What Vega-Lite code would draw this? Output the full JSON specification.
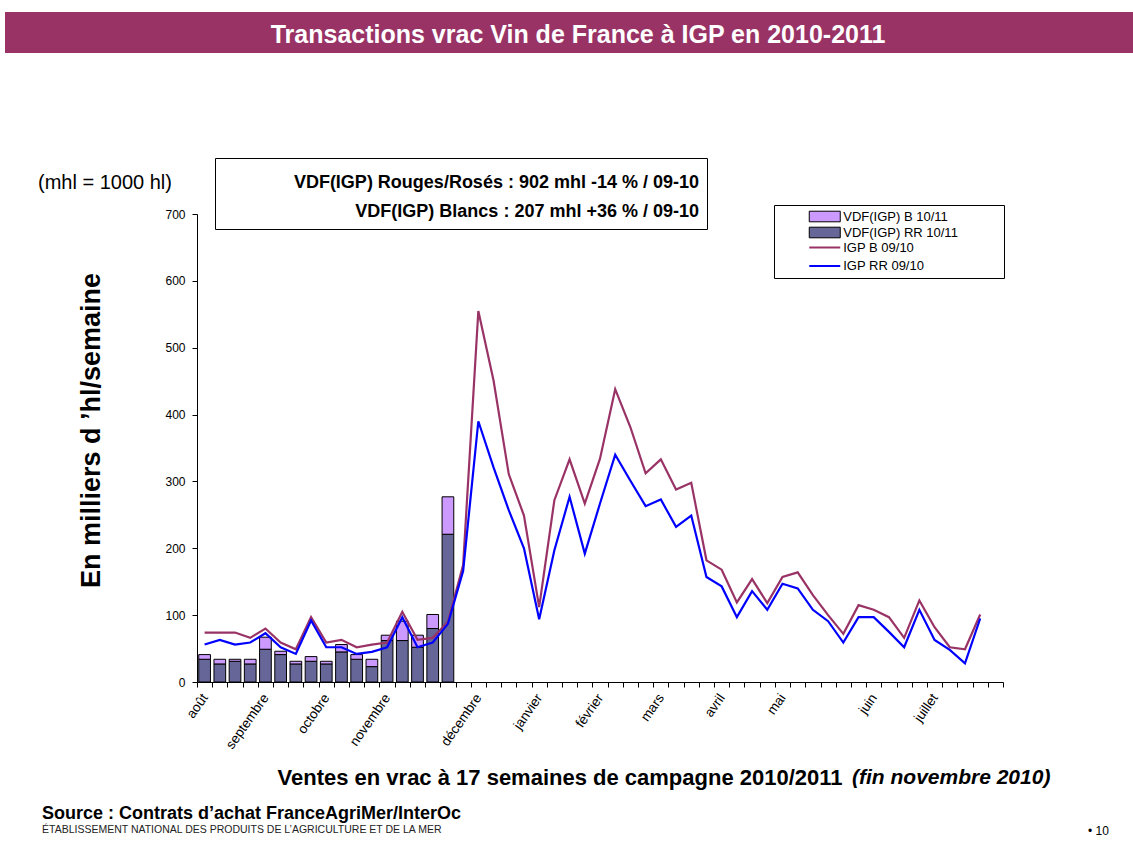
{
"$schema": "https://vega.github.io/schema/vega-lite/v6.json",
"autosize": {"type": "none"},
"padding": {"left": 197, "top": 214, "right": 130, "bottom": 175},
"width": 806, "height": 468,
"background": "white",
"config": {"font": "Liberation Sans", "view": {"stroke": null}},
"resolve": {"scale": {"strokeDash": "independent"}},
"data": {"values": [
 {"w":1,"serie":"VDF(IGP) RR 10/11","v":34},{"w":2,"serie":"VDF(IGP) RR 10/11","v":27},{"w":3,"serie":"VDF(IGP) RR 10/11","v":31},{"w":4,"serie":"VDF(IGP) RR 10/11","v":27},{"w":5,"serie":"VDF(IGP) RR 10/11","v":49},{"w":6,"serie":"VDF(IGP) RR 10/11","v":41},{"w":7,"serie":"VDF(IGP) RR 10/11","v":27},{"w":8,"serie":"VDF(IGP) RR 10/11","v":31},{"w":9,"serie":"VDF(IGP) RR 10/11","v":27},{"w":10,"serie":"VDF(IGP) RR 10/11","v":45},{"w":11,"serie":"VDF(IGP) RR 10/11","v":34},{"w":12,"serie":"VDF(IGP) RR 10/11","v":23},{"w":13,"serie":"VDF(IGP) RR 10/11","v":62},{"w":14,"serie":"VDF(IGP) RR 10/11","v":62},{"w":15,"serie":"VDF(IGP) RR 10/11","v":52},{"w":16,"serie":"VDF(IGP) RR 10/11","v":80},{"w":17,"serie":"VDF(IGP) RR 10/11","v":221},
 {"w":1,"serie":"VDF(IGP) B 10/11","v":7},{"w":2,"serie":"VDF(IGP) B 10/11","v":7},{"w":3,"serie":"VDF(IGP) B 10/11","v":3},{"w":4,"serie":"VDF(IGP) B 10/11","v":7},{"w":5,"serie":"VDF(IGP) B 10/11","v":18},{"w":6,"serie":"VDF(IGP) B 10/11","v":5},{"w":7,"serie":"VDF(IGP) B 10/11","v":4},{"w":8,"serie":"VDF(IGP) B 10/11","v":7},{"w":9,"serie":"VDF(IGP) B 10/11","v":4},{"w":10,"serie":"VDF(IGP) B 10/11","v":11},{"w":11,"serie":"VDF(IGP) B 10/11","v":7},{"w":12,"serie":"VDF(IGP) B 10/11","v":11},{"w":13,"serie":"VDF(IGP) B 10/11","v":8},{"w":14,"serie":"VDF(IGP) B 10/11","v":29},{"w":15,"serie":"VDF(IGP) B 10/11","v":18},{"w":16,"serie":"VDF(IGP) B 10/11","v":21},{"w":17,"serie":"VDF(IGP) B 10/11","v":56},
 {"w":1,"serie":"IGP B 09/10","v":74},{"w":2,"serie":"IGP B 09/10","v":74},{"w":3,"serie":"IGP B 09/10","v":74},{"w":4,"serie":"IGP B 09/10","v":66},{"w":5,"serie":"IGP B 09/10","v":80},{"w":6,"serie":"IGP B 09/10","v":59},{"w":7,"serie":"IGP B 09/10","v":49},{"w":8,"serie":"IGP B 09/10","v":97},{"w":9,"serie":"IGP B 09/10","v":59},{"w":10,"serie":"IGP B 09/10","v":63},{"w":11,"serie":"IGP B 09/10","v":52},{"w":12,"serie":"IGP B 09/10","v":56},{"w":13,"serie":"IGP B 09/10","v":59},{"w":14,"serie":"IGP B 09/10","v":105},{"w":15,"serie":"IGP B 09/10","v":63},{"w":16,"serie":"IGP B 09/10","v":66},{"w":17,"serie":"IGP B 09/10","v":90},{"w":18,"serie":"IGP B 09/10","v":175},{"w":19,"serie":"IGP B 09/10","v":555},{"w":20,"serie":"IGP B 09/10","v":451},{"w":21,"serie":"IGP B 09/10","v":311},{"w":22,"serie":"IGP B 09/10","v":249},{"w":23,"serie":"IGP B 09/10","v":112},{"w":24,"serie":"IGP B 09/10","v":272},{"w":25,"serie":"IGP B 09/10","v":333},{"w":26,"serie":"IGP B 09/10","v":267},{"w":27,"serie":"IGP B 09/10","v":334},{"w":28,"serie":"IGP B 09/10","v":438},{"w":29,"serie":"IGP B 09/10","v":381},{"w":30,"serie":"IGP B 09/10","v":312},{"w":31,"serie":"IGP B 09/10","v":333},{"w":32,"serie":"IGP B 09/10","v":288},{"w":33,"serie":"IGP B 09/10","v":298},{"w":34,"serie":"IGP B 09/10","v":182},{"w":35,"serie":"IGP B 09/10","v":168},{"w":36,"serie":"IGP B 09/10","v":119},{"w":37,"serie":"IGP B 09/10","v":154},{"w":38,"serie":"IGP B 09/10","v":118},{"w":39,"serie":"IGP B 09/10","v":157},{"w":40,"serie":"IGP B 09/10","v":164},{"w":41,"serie":"IGP B 09/10","v":130},{"w":42,"serie":"IGP B 09/10","v":100},{"w":43,"serie":"IGP B 09/10","v":72},{"w":44,"serie":"IGP B 09/10","v":115},{"w":45,"serie":"IGP B 09/10","v":108},{"w":46,"serie":"IGP B 09/10","v":97},{"w":47,"serie":"IGP B 09/10","v":66},{"w":48,"serie":"IGP B 09/10","v":122},{"w":49,"serie":"IGP B 09/10","v":82},{"w":50,"serie":"IGP B 09/10","v":52},{"w":51,"serie":"IGP B 09/10","v":49},{"w":52,"serie":"IGP B 09/10","v":101},
 {"w":1,"serie":"IGP RR 09/10","v":56},{"w":2,"serie":"IGP RR 09/10","v":63},{"w":3,"serie":"IGP RR 09/10","v":56},{"w":4,"serie":"IGP RR 09/10","v":59},{"w":5,"serie":"IGP RR 09/10","v":73},{"w":6,"serie":"IGP RR 09/10","v":52},{"w":7,"serie":"IGP RR 09/10","v":42},{"w":8,"serie":"IGP RR 09/10","v":92},{"w":9,"serie":"IGP RR 09/10","v":52},{"w":10,"serie":"IGP RR 09/10","v":52},{"w":11,"serie":"IGP RR 09/10","v":42},{"w":12,"serie":"IGP RR 09/10","v":45},{"w":13,"serie":"IGP RR 09/10","v":52},{"w":14,"serie":"IGP RR 09/10","v":97},{"w":15,"serie":"IGP RR 09/10","v":52},{"w":16,"serie":"IGP RR 09/10","v":59},{"w":17,"serie":"IGP RR 09/10","v":87},{"w":18,"serie":"IGP RR 09/10","v":166},{"w":19,"serie":"IGP RR 09/10","v":390},{"w":20,"serie":"IGP RR 09/10","v":321},{"w":21,"serie":"IGP RR 09/10","v":257},{"w":22,"serie":"IGP RR 09/10","v":200},{"w":23,"serie":"IGP RR 09/10","v":94},{"w":24,"serie":"IGP RR 09/10","v":197},{"w":25,"serie":"IGP RR 09/10","v":277},{"w":26,"serie":"IGP RR 09/10","v":192},{"w":27,"serie":"IGP RR 09/10","v":267},{"w":28,"serie":"IGP RR 09/10","v":340},{"w":29,"serie":"IGP RR 09/10","v":301},{"w":30,"serie":"IGP RR 09/10","v":263},{"w":31,"serie":"IGP RR 09/10","v":273},{"w":32,"serie":"IGP RR 09/10","v":232},{"w":33,"serie":"IGP RR 09/10","v":249},{"w":34,"serie":"IGP RR 09/10","v":157},{"w":35,"serie":"IGP RR 09/10","v":143},{"w":36,"serie":"IGP RR 09/10","v":97},{"w":37,"serie":"IGP RR 09/10","v":136},{"w":38,"serie":"IGP RR 09/10","v":108},{"w":39,"serie":"IGP RR 09/10","v":147},{"w":40,"serie":"IGP RR 09/10","v":140},{"w":41,"serie":"IGP RR 09/10","v":108},{"w":42,"serie":"IGP RR 09/10","v":91},{"w":43,"serie":"IGP RR 09/10","v":59},{"w":44,"serie":"IGP RR 09/10","v":97},{"w":45,"serie":"IGP RR 09/10","v":97},{"w":46,"serie":"IGP RR 09/10","v":75},{"w":47,"serie":"IGP RR 09/10","v":52},{"w":48,"serie":"IGP RR 09/10","v":108},{"w":49,"serie":"IGP RR 09/10","v":63},{"w":50,"serie":"IGP RR 09/10","v":48},{"w":51,"serie":"IGP RR 09/10","v":28},{"w":52,"serie":"IGP RR 09/10","v":95}
]},
"layer": [
 {
  "transform": [{"filter": "indexof(datum.serie, 'VDF') == 0"}],
  "mark": {"type": "bar", "stroke": "black", "strokeWidth": 1, "width": {"band": 0.77}},
  "encoding": {
   "x": {"field": "w", "type": "ordinal",
    "scale": {"domain": [1,2,3,4,5,6,7,8,9,10,11,12,13,14,15,16,17,18,19,20,21,22,23,24,25,26,27,28,29,30,31,32,33,34,35,36,37,38,39,40,41,42,43,44,45,46,47,48,49,50,51,52,53], "paddingInner": 0, "paddingOuter": 0},
    "title": "Ventes en vrac à 17 semaines de campagne 2010/2011",
    "axis": {"titleFontSize": 22, "titleFontWeight": "bold", "titleColor": "black", "titleX": 80, "titleY": 95, "titleAlign": "left", "titleBaseline": "middle",
     "labelExpr": "datum.value == 1 ? 'août' : datum.value == 5 ? 'septembre' : datum.value == 9 ? 'octobre' : datum.value == 13 ? 'novembre' : datum.value == 19 ? 'décembre' : datum.value == 23 ? 'janvier' : datum.value == 27 ? 'février' : datum.value == 31 ? 'mars' : datum.value == 35 ? 'avril' : datum.value == 39 ? 'mai' : datum.value == 45 ? 'juin' : datum.value == 49 ? 'juillet' : ''",
     "labelAngle": -55, "labelAlign": "right", "labelBaseline": "middle", "labelFontSize": 13.5, "labelColor": "black", "labelPadding": 8, "labelOverlap": false,
     "tickBand": "extent", "tickSize": 5, "tickColor": "black", "domainColor": "black", "grid": false}},
   "y": {"field": "v", "type": "quantitative", "stack": "zero",
    "scale": {"domain": [0, 700], "nice": false},
    "title": "En milliers d ’hl/semaine",
    "axis": {"values": [0,100,200,300,400,500,600,700], "titleFontSize": 27, "titleFontWeight": "bold", "titleColor": "black", "titleX": -106, "titleY": 216, "titleAngle": -90, "titleAlign": "center", "titleBaseline": "middle",
     "labelFontSize": 12, "labelColor": "black", "labelPadding": 7, "tickSize": 5, "tickColor": "black", "domainColor": "black", "grid": false}},
   "color": {"field": "serie", "type": "nominal",
    "scale": {"domain": ["VDF(IGP) B 10/11", "VDF(IGP) RR 10/11"], "range": ["#CC99FF", "#666699"]},
    "legend": {"title": "iiiiiiiiiiiiiiiiiiiiiiiiiiiiiiiiiiiiiiiiiiiiiiiiiiiiiiiiiiii", "titleOrient": "bottom", "titlePadding": 8, "titleFontSize": 25, "titleOpacity": 0, "titleLimit": 225,
     "orient": "none", "legendX": 577, "legendY": -9, "padding": 5, "strokeColor": "black",
     "symbolType": "M-3.1,-1.06H3.1V1.06H-3.1Z", "symbolSize": 100, "symbolOffset": 39.25, "symbolStrokeColor": "black", "symbolStrokeWidth": 1, "symbolOpacity": 1,
     "labelOffset": 12, "rowPadding": 1, "labelFontSize": 13, "labelColor": "black", "labelLimit": 1000}},
   "order": {"field": "serie", "type": "nominal", "sort": "descending"}
  }
 },
 {
  "transform": [{"filter": "indexof(datum.serie, 'IGP') == 0"}],
  "mark": {"type": "line", "strokeWidth": 2.2},
  "encoding": {
   "x": {"field": "w", "type": "ordinal", "title": "Ventes en vrac à 17 semaines de campagne 2010/2011"},
   "y": {"field": "v", "type": "quantitative", "title": "En milliers d ’hl/semaine"},
   "stroke": {"field": "serie", "type": "nominal",
    "scale": {"domain": ["IGP B 09/10", "IGP RR 09/10"], "range": ["#993366", "#0000FF"]},
    "legend": {"title": null, "orient": "none", "legendX": 582, "legendY": 27, "padding": 0,
     "symbolType": "M-3.1,0H3.1", "symbolSize": 100, "symbolOffset": 39.25, "symbolStrokeWidth": 2, "symbolOpacity": 1,
     "labelOffset": 12, "rowPadding": 4.5, "labelFontSize": 13, "labelColor": "black", "labelLimit": 1000}}
  }
 },
 {
  "data": {"values": [
   {"note": "VDF(IGP) Rouges/Rosés : 902 mhl -14 % / 09-10", "mhl": "(mhl = 1000 hl)", "fin": "(fin novembre 2010)", "pg": "• 10", "b": 0.5},
   {"note": "VDF(IGP) Blancs : 207 mhl +36 % / 09-10", "mhl": "(mhl = 1000 hl)", "fin": "(fin novembre 2010)", "pg": "• 10", "b": 0.5}
  ]},
  "mark": {"type": "point", "opacity": 0, "filled": true},
  "encoding": {
   "fill": {"field": "b", "type": "quantitative",
    "scale": {"domain": [0, 1], "range": ["#993366", "#993366"]},
    "legend": {"type": "gradient", "direction": "horizontal", "orient": "none", "legendX": -192, "legendY": -202, "title": null, "padding": 0,
     "gradientLength": 1128, "gradientThickness": 41, "gradientStrokeWidth": 0,
     "values": [0.508], "labelExpr": "'Transactions vrac Vin de France à IGP en 2010-2011'",
     "labelColor": "white", "labelFontSize": 25, "labelFontWeight": "bold", "labelOffset": -30.5, "labelBaseline": "middle", "labelAlign": "center",
     "labelFlush": false, "labelLimit": 1000, "labelOverlap": false}},
   "shape": {"field": "note", "type": "nominal",
    "scale": {"domain": ["VDF(IGP) Rouges/Rosés : 902 mhl -14 % / 09-10", "VDF(IGP) Blancs : 207 mhl +36 % / 09-10"]},
    "legend": {"orient": "none", "legendX": 18, "legendY": -56, "title": "\u00a0", "titleFontSize": 4, "titlePadding": 4,
     "padding": 8, "rowPadding": 11, "symbolSize": 0, "symbolOpacity": 0, "labelAlign": "right", "labelOffset": 458,
     "labelFontSize": 18, "labelFontWeight": "bold", "labelColor": "black", "labelLimit": 1000,
     "strokeColor": "black"}},
   "strokeDash": {"field": "mhl", "type": "nominal",
    "legend": {"orient": "none", "legendX": -159, "legendY": -41, "title": "(mhl = 1000 hl)", "titleFontSize": 20, "titleFontWeight": "normal", "titleColor": "black", "titleLimit": 1000,
     "padding": 0, "symbolOpacity": 0, "labelExpr": "''", "labelFontSize": 1}},
   "size": {"field": "fin", "type": "ordinal",
    "legend": {"orient": "none", "legendX": 655, "legendY": 553, "title": "(fin novembre 2010)", "titleFontSize": 21, "titleFontWeight": "bold", "titleFontStyle": "italic", "titleColor": "black", "titleLimit": 1000, "titlePadding": 0,
     "padding": 0, "symbolOpacity": 0, "labelExpr": "''", "labelFontSize": 1}},
   "strokeWidth": {"field": "pg", "type": "ordinal",
    "legend": {"orient": "none", "legendX": 891, "legendY": 612, "title": "• 10", "titleFontSize": 12, "titleFontWeight": "normal", "titleColor": "black",
     "padding": 0, "symbolOpacity": 0, "labelExpr": "''", "labelFontSize": 1}}
  }
 },
 {
  "data": {"values": [{"src": "Source : Contrats d’achat FranceAgriMer/InterOc", "org": "ÉTABLISSEMENT NATIONAL DES PRODUITS DE L’AGRICULTURE ET DE LA MER"}]},
  "mark": {"type": "point"},
  "encoding": {
   "opacity": {"field": "src", "type": "ordinal", "scale": {"range": [0, 0]},
    "legend": {"orient": "none", "legendX": -155, "legendY": 591, "title": "Source : Contrats d’achat FranceAgriMer/InterOc", "titleFontSize": 18, "titleFontWeight": "bold", "titleColor": "black", "titleLimit": 1000,
     "padding": 0, "symbolOpacity": 0, "labelExpr": "''", "labelFontSize": 1}},
   "strokeDash": {"field": "org", "type": "nominal",
    "legend": {"orient": "none", "legendX": -155, "legendY": 611, "title": "ÉTABLISSEMENT NATIONAL DES PRODUITS DE L’AGRICULTURE ET DE LA MER", "titleFontSize": 10.5, "titleFontWeight": "normal", "titleColor": "#222222", "titleLimit": 1000,
     "padding": 0, "symbolOpacity": 0, "labelExpr": "''", "labelFontSize": 1}}
  }
 }
]
}
